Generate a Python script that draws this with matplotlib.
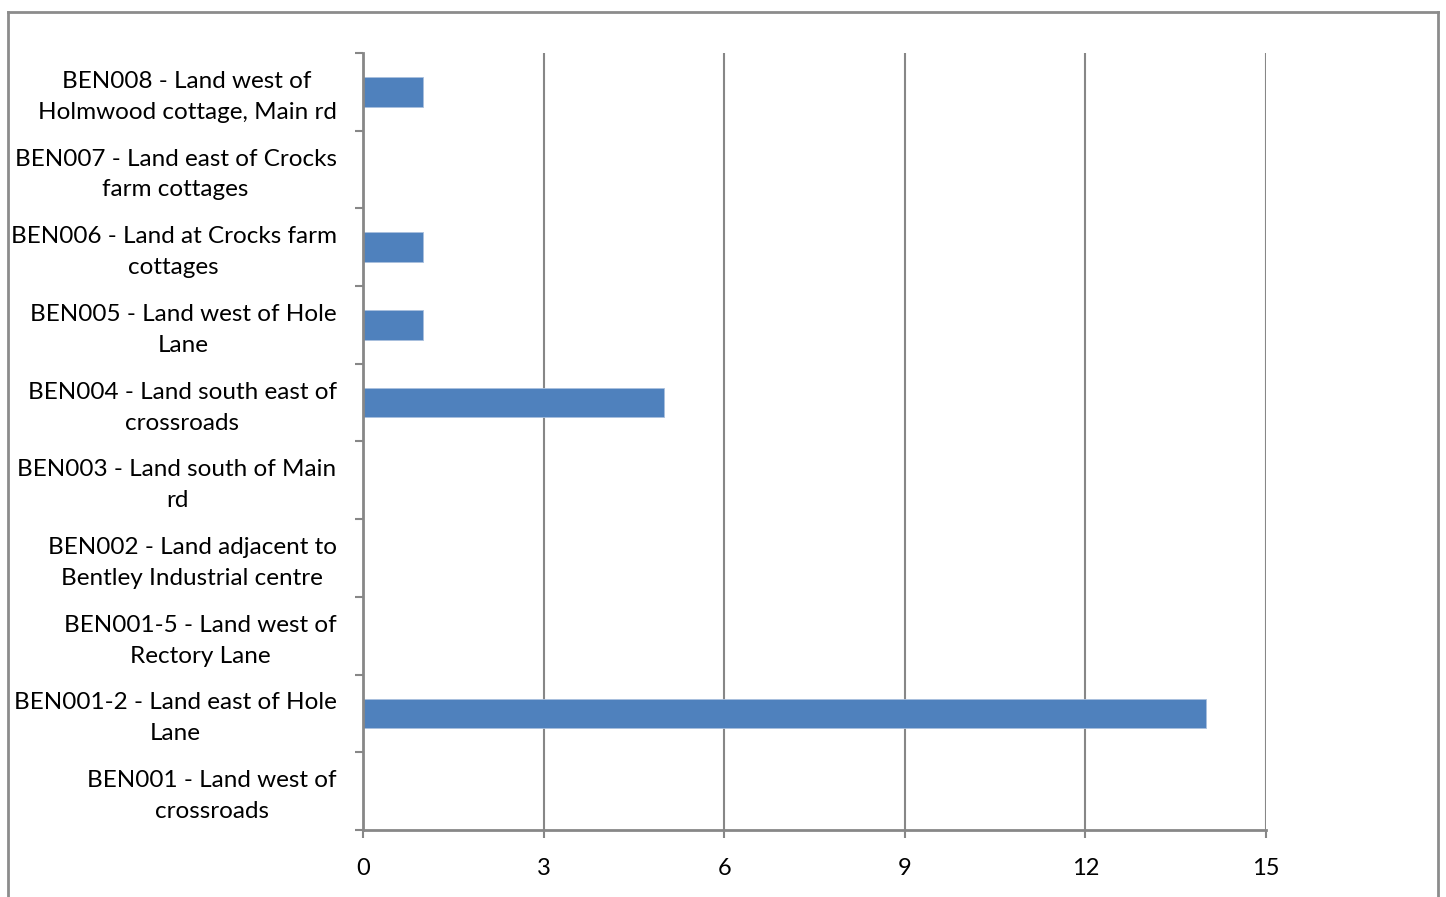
import matplotlib
matplotlib.use("Agg")
import matplotlib.pyplot as plt
from matplotlib.lines import Line2D
from matplotlib.ticker import FixedLocator, NullFormatter
from matplotlib.transforms import ScaledTranslation

plt.rcParams['font.family'] = ['Lato', 'DejaVu Sans']

# Sites, bottom to top
sites = [
    "BEN001 - Land west of\ncrossroads",
    "BEN001-2 - Land east of Hole\nLane",
    "BEN001-5 - Land west of\nRectory Lane",
    "BEN002 - Land adjacent to\nBentley Industrial centre",
    "BEN003 - Land south of Main\nrd",
    "BEN004 - Land south east of\ncrossroads",
    "BEN005 - Land west of Hole\nLane",
    "BEN006 - Land at Crocks farm\ncottages",
    "BEN007 - Land east of Crocks\nfarm cottages",
    "BEN008 - Land west of\nHolmwood cottage, Main rd",
]
counts = [0, 14, 0, 0, 0, 5, 1, 1, 0, 1]
x_ticks = [0, 3, 6, 9, 12, 15]

W, H = 1446, 897
fig = plt.figure(figsize=(W / 100, H / 100), dpi=100)
ax = fig.add_axes([363 / W, 1 - 830 / H, (1266 - 363) / W, (830 - 53) / H])

grey = "#878787"
bar_color = "#4F81BD"

ypos = list(range(len(sites)))
ax.barh(ypos, counts, height=0.38, color=bar_color, edgecolor="#A9C0DE",
        linewidth=0.6, zorder=3)

ax.set_xlim(0, 15)
ax.set_ylim(-0.5, len(sites) - 0.5)

ax.xaxis.set_major_locator(FixedLocator(x_ticks))
ax.set_xticklabels([str(t) for t in x_ticks])
ax.grid(axis="x", color=grey, linewidth=1.5, zorder=1)

ax.set_yticks(ypos)
ax.set_yticklabels(sites, multialignment="center")
ax.yaxis.set_minor_locator(FixedLocator([i - 0.5 for i in range(len(sites) + 1)]))
ax.yaxis.set_minor_formatter(NullFormatter())
ax.tick_params(axis="y", which="major", length=0, pad=19)
ax.tick_params(axis="y", which="minor", length=6, width=1.5, color=grey, direction="out")
ax.tick_params(axis="x", which="major", length=6, width=1.5, color=grey, direction="out", pad=14)

shift_up = ScaledTranslation(0, 2 / 100, fig.dpi_scale_trans)
for lab in ax.get_yticklabels():
    lab.set_fontsize(17.5)
    lab.set_linespacing(1.58)
    lab.set_transform(lab.get_transform() + shift_up)
for lab in ax.get_xticklabels():
    lab.set_fontsize(17)

for side in ("top", "right"):
    ax.spines[side].set_visible(False)
for side in ("left", "bottom"):
    ax.spines[side].set_color(grey)
    ax.spines[side].set_linewidth(2)
    ax.spines[side].set_zorder(4)

# Chart area frame
frame_kw = dict(color="#8C8C8C", linewidth=2, transform=fig.transFigure)
x0, x1, y1 = 7.5 / W, 1438 / W, 1 - 12.5 / H
fig.add_artist(Line2D([x0, x0], [-0.01, y1], **frame_kw))
fig.add_artist(Line2D([x0, x1], [y1, y1], **frame_kw))
fig.add_artist(Line2D([x1, x1], [-0.01, y1], **frame_kw))

fig.savefig("out.png", dpi=100)
